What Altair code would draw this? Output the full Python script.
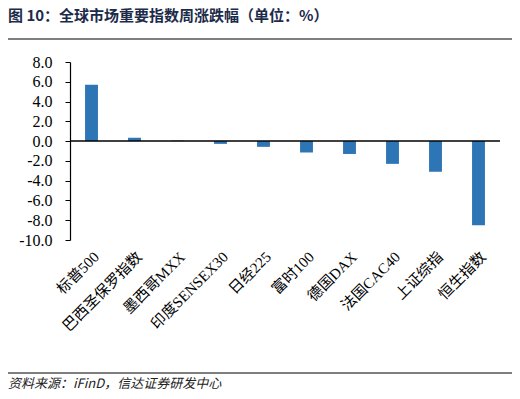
import altair as alt
import pandas as pd

categories = ["标普500", "巴西圣保罗指数", "墨西哥MXX", "印度SENSEX30", "日经225",
              "富时100", "德国DAX", "法国CAC40", "上证综指", "恒生指数"]
values = [5.7, 0.33, 0.05, -0.28, -0.58, -1.15, -1.3, -2.3, -3.1, -8.5]
y_ticks = [-10, -8, -6, -4, -2, 0, 2, 4, 6, 8]
title_text = "图 10：全球市场重要指数周涨跌幅（单位：%）"
source_text = "资料来源：iFinD，信达证券研发中心"

df = pd.DataFrame({"name": categories, "value": values})
zero_df = pd.DataFrame({"value": [0]})
one = pd.DataFrame({"a": [0]})

FONT = "Liberation Serif, Noto Sans CJK SC"
W, H = 430, 178

y_scale = alt.Scale(domain=[-10, 8], nice=False)
y_axis = alt.Axis(title=None, values=y_ticks, grid=False, labelOverlap=False,
                  labelExpr="datum.value < 0 ? '-' + format(-datum.value, '.1f') : format(datum.value, '.1f')",
                  labelFont="Liberation Serif", labelFontSize=16, labelColor="#000",
                  domainColor="#000", tickColor="#000", tickSize=5,
                  labelPadding=13, domainWidth=1.2)

bars = alt.Chart(df).mark_bar(color="#2E75B6").encode(
    x=alt.X("name:N", sort=None,
            scale=alt.Scale(paddingInner=0.7, paddingOuter=0.35),
            axis=alt.Axis(title=None, ticks=False, domain=False, labelAngle=-45,
                          labelFont=FONT, labelFontSize=15, labelColor="#000",
                          labelPadding=9, labelOverlap=False)),
    y=alt.Y("value:Q", scale=y_scale, axis=y_axis),
)

zero = alt.Chart(zero_df).mark_rule(color="#000", strokeWidth=1.5).encode(
    y=alt.Y("value:Q", scale=y_scale, axis=y_axis), x=alt.value(0), x2=alt.value(W))

top_line = alt.Chart(one).mark_rule(color="#000", strokeWidth=1.2).encode(
    x=alt.value(-65), x2=alt.value(443), y=alt.value(-23))
bottom_line = alt.Chart(one).mark_rule(color="#000", strokeWidth=1.2).encode(
    x=alt.value(-65), x2=alt.value(443), y=alt.value(311))

title = alt.Chart(one).mark_text(
    text=title_text, align="left", baseline="middle", fontSize=15, fontWeight="bold",
    font="Noto Sans CJK SC", color="#1C2B4A").encode(
    x=alt.value(-62), y=alt.value(-46))

source = alt.Chart(one).mark_text(
    text=source_text, align="left", baseline="middle", fontSize=13, fontStyle="italic",
    font="Noto Sans CJK SC", color="#222").encode(
    x=alt.value(-62), y=alt.value(322))

chart = alt.layer(bars, zero, top_line, bottom_line, title, source).properties(
    width=W, height=H,
    autosize=alt.AutoSizeParams(type="none"),
    padding={"left": 62, "top": 54, "right": 12, "bottom": 151},
).configure_view(stroke=None).configure_axis(labelOverlap=False)

chart.save("out.html", embed_options={"renderer": "svg", "actions": False})
